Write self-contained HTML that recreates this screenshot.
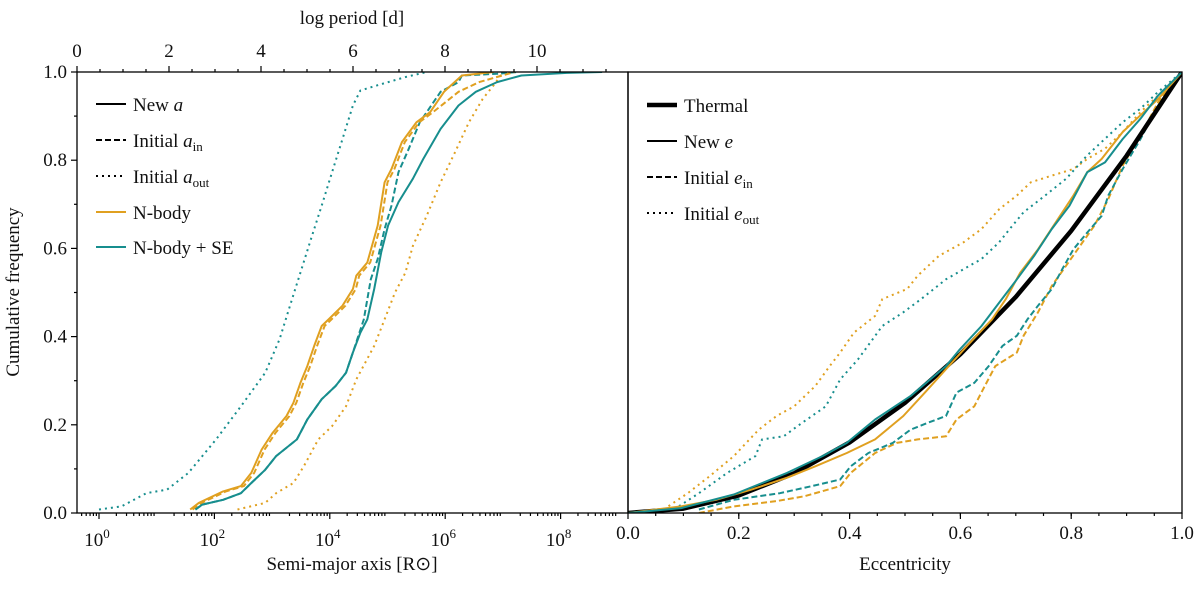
<!DOCTYPE html>
<html><head><meta charset="utf-8"><style>
body{margin:0;background:#fff}
svg text{font-family:"Liberation Serif",serif;fill:#111}
</style></head><body>
<svg id="c" width="1200" height="587" viewBox="0 0 1200 587" xmlns="http://www.w3.org/2000/svg"></svg>
<script>
// ---- Left panel data (log10 semi-major axis, cumulative frequency)
const nbNewLogA=[1.58,1.73,2.15,2.46,2.64,2.82,3.01,3.25,3.37,3.49,3.61,3.73,3.86,3.98,4.22,4.40,4.46,4.65,4.83,4.95,5.07,5.25,5.50,5.74,5.98,6.29,6.84];
const nbNewCum=[.008,.023,.049,.061,.091,.144,.182,.22,.25,.295,.333,.379,.424,.439,.47,.508,.538,.568,.652,.75,.78,.841,.886,.909,.955,.992,1];
const nbInLogA=[1.62,1.78,2.2,2.51,2.69,2.87,3.06,3.3,3.42,3.54,3.66,3.78,3.91,4.03,4.27,4.45,4.51,4.7,4.88,5.0,5.12,5.3,5.55,5.79,6.23,6.59,7.2];
const nbInCum=[.008,.023,.049,.061,.091,.144,.182,.22,.25,.295,.333,.379,.424,.439,.47,.508,.538,.568,.652,.75,.78,.841,.886,.909,.955,.977,1];
const nbOutLogA=[2.40,2.88,3.07,3.37,3.55,3.80,4.04,4.28,4.46,4.77,4.95,5.13,5.31,5.44,5.68,5.92,6.17,6.41,6.65,6.84,6.96,7.14];
const nbOutCum=[.008,.023,.045,.068,.106,.167,.197,.242,.303,.379,.439,.5,.545,.606,.674,.75,.818,.886,.939,.97,.992,1];
const seNewLogA=[1.67,1.79,2.15,2.46,2.64,2.88,3.07,3.43,3.61,3.86,4.10,4.28,4.40,4.53,4.65,4.77,4.89,5.01,5.19,5.44,5.62,5.92,6.23,6.53,6.90,7.32,8.11,8.72];
const seNewCum=[.008,.019,.03,.045,.068,.098,.129,.167,.212,.258,.288,.318,.364,.409,.439,.508,.591,.652,.705,.758,.803,.871,.924,.955,.977,.992,.998,1];
const seInLogA=[1.67,1.79,2.15,2.46,2.64,2.88,3.07,3.43,3.61,3.86,4.10,4.28,4.40,4.59,4.71,4.83,4.95,5.07,5.19,5.37,5.56,5.92,6.23,6.29,6.9,7.26];
const seInCum=[.008,.019,.03,.045,.068,.098,.129,.167,.212,.258,.288,.318,.364,.439,.53,.576,.644,.697,.773,.826,.886,.955,.977,.992,.996,1];
const seOutLogA=[0.0,0.39,0.82,1.18,1.55,2.03,2.46,2.88,3.13,3.31,3.49,3.67,3.86,4.04,4.22,4.40,4.53,4.83,5.32,5.68];
const seOutCum=[.008,.015,.045,.053,.091,.167,.242,.318,.394,.47,.545,.62,.697,.773,.848,.924,.958,.97,.989,1];
// ---- Right panel data (eccentricity, cumulative frequency)
const thermE=[0,.1,.2,.3,.4,.5,.6,.7,.8,.9,1];
const thermCum=[0,.01,.04,.09,.16,.25,.36,.49,.64,.81,1];
const nbNewE=[0,.096,.159,.223,.287,.338,.395,.446,.497,.536,.574,.612,.657,.682,.708,.740,.772,.804,.829,.855,.893,.925,.957,1];
const nbNewECum=[0,.015,.03,.053,.08,.106,.136,.167,.22,.273,.326,.379,.439,.485,.545,.598,.659,.72,.773,.803,.864,.902,.939,1];
const seNewE=[0,.096,.191,.287,.351,.395,.446,.510,.574,.599,.638,.670,.702,.733,.765,.797,.829,.861,.893,.925,.957,1];
const seNewECum=[0,.011,.042,.091,.129,.159,.212,.265,.333,.371,.424,.477,.53,.583,.644,.697,.773,.795,.848,.894,.947,1];
const nbOutE=[.064,.108,.147,.191,.236,.268,.30,.338,.364,.383,.408,.446,.459,.504,.523,.561,.606,.638,.670,.702,.727,.765,.804,.829,.861,.893,.925,.957,1];
const nbOutECum=[.008,.045,.083,.129,.189,.22,.242,.288,.333,.364,.409,.447,.485,.508,.538,.583,.614,.644,.689,.72,.75,.765,.78,.803,.826,.864,.909,.947,1];
const seOutE=[.083,.128,.179,.230,.242,.281,.306,.357,.383,.415,.459,.497,.529,.574,.606,.638,.670,.689,.714,.753,.791,.829,.893,.925,.957,1];
const seOutECum=[.008,.045,.091,.129,.167,.174,.197,.242,.303,.348,.424,.455,.485,.53,.553,.576,.614,.644,.682,.72,.758,.811,.886,.917,.955,1];
const seInE=[.128,.191,.274,.332,.383,.402,.434,.478,.510,.542,.574,.593,.625,.651,.676,.702,.721,.740,.765,.784,.804,.829,.855,.867,.893,.925,.957,1];
const seInECum=[.008,.03,.045,.061,.076,.106,.136,.159,.189,.205,.22,.273,.295,.333,.379,.402,.439,.47,.508,.553,.598,.636,.674,.72,.78,.848,.924,1];
const nbInE=[.128,.191,.268,.319,.383,.402,.446,.485,.523,.574,.593,.625,.644,.663,.702,.714,.740,.765,.791,.816,.842,.867,.893,.925,.957,1];
const nbInECum=[0,.015,.027,.038,.061,.091,.136,.159,.167,.174,.212,.242,.288,.333,.364,.402,.455,.515,.561,.606,.652,.712,.788,.856,.932,1];
const yTicks=[0,0.2,0.4,0.6,0.8,1.0];
const periodTicks=[0,2,4,6,8,10];
const aTicks=[0,2,4,6,8];
const eTicks=[0,0.2,0.4,0.6,0.8,1.0];

const OR='#E0A020', TE='#178E8E';
const L0=77,L1=628,R0=628,R1=1182,T=72,B=513;
const xA=v=>99+v*57.7;
const xP=v=>77+v*46;
const xE=v=>R0+v*(R1-R0);
const yC=v=>B-v*(B-T);
const svg=document.getElementById('c');
const NS='http://www.w3.org/2000/svg';
function mk(tag,at,txt){const e=document.createElementNS(NS,tag);for(const k in at)e.setAttribute(k,at[k]);if(txt!==undefined)e.textContent=txt;svg.appendChild(e);return e;}
function line(x1,y1,x2,y2,name){const e=mk('line',{x1,y1,x2,y2,stroke:'#000','stroke-width':1.2});

return e;}
function txt(x,y,s,name,anchor,size){const e=mk('text',{x,y,'text-anchor':anchor||'middle','font-size':size||19},s);

return e;}
function series(xs,ys,fx,color,dash,w,name){
 const pts=xs.map((v,i)=>fx(v).toFixed(1)+','+yC(ys[i]).toFixed(1)).join(' ');
 const e=mk('polyline',{points:pts,fill:'none',stroke:color,'stroke-width':w||2,'stroke-dasharray':dash||'none','stroke-linejoin':'round'});
 
 }
// left panel clip
const defs=mk('defs',{});
defs.innerHTML='<clipPath id="cl"><rect x="77" y="72" width="551" height="441"/></clipPath><clipPath id="cr"><rect x="628" y="72" width="554" height="441"/></clipPath>';
// y ticks
yTicks.forEach(v=>{line(L0-6,yC(v),L0,yC(v),'y-tick');txt(L0-10,yC(v)+6,v.toFixed(1),'y-tick-label','end');});
for(let v=0.1;v<1;v+=0.2)line(L0-3,yC(v),L0,yC(v),'y-minor-tick');
// top period ticks
periodTicks.forEach(v=>{line(xP(v),T-6,xP(v),T,'top-tick');txt(xP(v),T-15,String(v),'top-tick-label');});
for(let v=0.5;v<=11.5;v+=0.5){if(v%2!==0)line(xP(v),T-3,xP(v),T,'top-minor-tick');}
txt(352,24,'log period [d]','top-axis-title');
// bottom log ticks
aTicks.forEach(v=>{line(xA(v),B,xA(v),B+6,'x-tick');
 const t=txt(xA(v)-2,B+33,'10','x-tick-label','middle');const s=document.createElementNS(NS,'tspan');s.setAttribute('dy',-8);s.setAttribute('font-size',13);s.textContent=String(v);t.appendChild(s);});
for(let d=-1;d<10;d++)for(let m=2;m<10;m++){const x=xA(d+Math.log10(m));if(x>L0&&x<L1)line(x,B,x,B+3,'x-minor-tick');}
txt(352,570,'Semi-major axis [R\u2299]','x-axis-title');
// right ticks
eTicks.forEach(v=>{line(xE(v),B,xE(v),B+6,'e-tick');txt(xE(v),B+26,v.toFixed(1),'e-tick-label');});
for(let v=0.05;v<1;v+=0.05){line(xE(v),B,xE(v),B+3,'e-minor-tick');}
txt(905,570,'Eccentricity','e-axis-title');
const yt=txt(0,0,'Cumulative frequency','y-axis-title');yt.setAttribute('transform','translate(19,292) rotate(-90)');
// series left
const gL=mk('g',{'clip-path':'url(#cl)'});
function sL(xs,ys,c,d,n){series(xs,ys,xA,c,d,2,n);svg.lastChild&&gL.appendChild(svg.lastChild);}
sL(seOutLogA,seOutCum,TE,'2 4','se-a-out');
sL(nbOutLogA,nbOutCum,OR,'2 4','nbody-a-out');
sL(seInLogA,seInCum,TE,'6 3','se-a-in');
sL(nbInLogA,nbInCum,OR,'6 3','nbody-a-in');
sL(seNewLogA,seNewCum,TE,'','se-a-new');
sL(nbNewLogA,nbNewCum,OR,'','nbody-a-new');
const gR=mk('g',{'clip-path':'url(#cr)'});
function sR(xs,ys,c,d,n,w){series(xs,ys,xE,c,d,w||2,n);gR.appendChild(svg.lastChild);}
sR(nbOutE,nbOutECum,OR,'2 4','nbody-e-out');
sR(seOutE,seOutECum,TE,'2 4','se-e-out');
sR(nbInE,nbInECum,OR,'6 3','nbody-e-in');
sR(seInE,seInECum,TE,'6 3','se-e-in');
sR(thermE,thermCum,'#000','','thermal',4.5);
sR(nbNewE,nbNewECum,OR,'','nbody-e-new');
sR(seNewE,seNewECum,TE,'','se-e-new');
// frames
const f1=mk('rect',{x:L0,y:T,width:L1-L0,height:B-T,fill:'none',stroke:'#000','stroke-width':1.3});

const f2=mk('rect',{x:R0,y:T,width:R1-R0,height:B-T,fill:'none',stroke:'#000','stroke-width':1.3});

// legends
function leg(x,y,c,d,w,label,sub,name,italic){
 const l=mk('line',{x1:x,y1:y,x2:x+30,y2:y,stroke:c,'stroke-width':w,'stroke-dasharray':d||'none'});
 
 const t=txt(x+37,y+7,label,name,'start');
 if(italic){const s=document.createElementNS(NS,'tspan');s.setAttribute('font-style','italic');s.textContent=italic;t.appendChild(s);}
 if(sub){const s=document.createElementNS(NS,'tspan');s.setAttribute('font-size',13);s.setAttribute('dy',4);s.textContent=sub;t.appendChild(s);}
}
leg(96,104,'#000','',2,'New ','', 'legend-new-a','a');
leg(96,140,'#000','6 3',2,'Initial ','in','legend-initial-a-in','a');
leg(96,176,'#000','2 4',2,'Initial ','out','legend-initial-a-out','a');
leg(96,212,OR,'',2,'N-body','','legend-nbody');
leg(96,247,TE,'',2,'N-body + SE','','legend-nbody-se');
leg(647,105,'#000','',4.5,'Thermal','','legend-thermal');
leg(647,141,'#000','',2,'New ','','legend-new-e','e');
leg(647,177,'#000','6 3',2,'Initial ','in','legend-initial-e-in','e');
leg(647,213,'#000','2 4',2,'Initial ','out','legend-initial-e-out','e');
</script>
</body></html>
